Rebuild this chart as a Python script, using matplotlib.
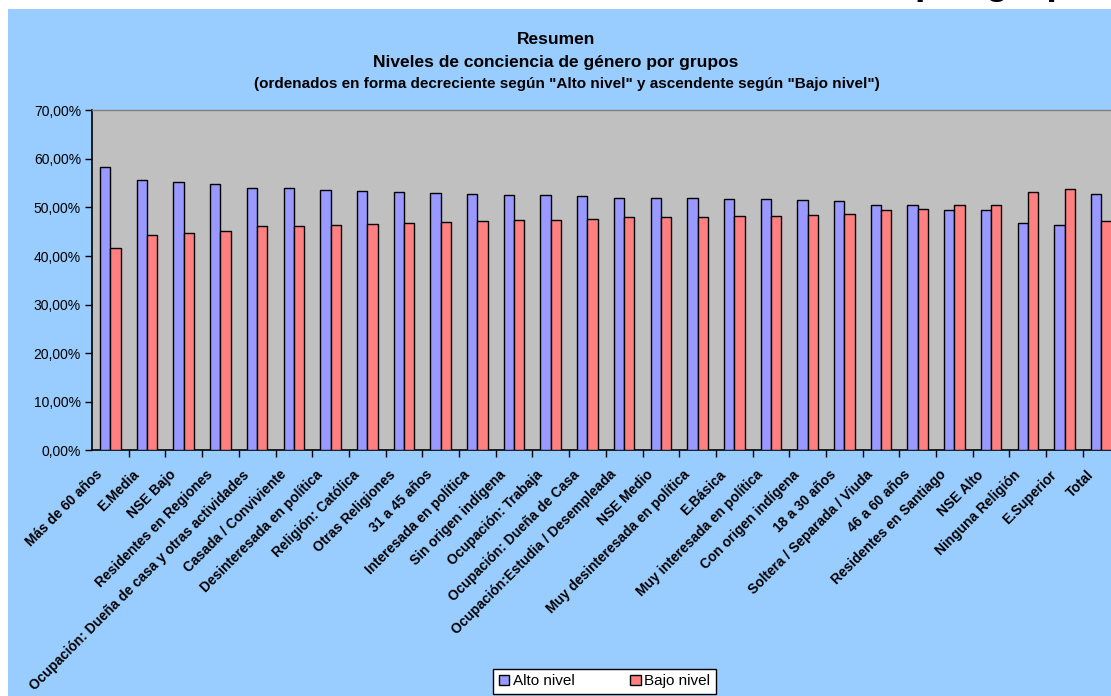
import matplotlib
matplotlib.use("Agg")
import matplotlib.pyplot as plt
import matplotlib.transforms as mtransforms
import numpy as np
from matplotlib.patches import Rectangle, Patch
from matplotlib.ticker import FuncFormatter, FixedLocator

plt.rcParams['font.family'] = ['Liberation Sans', 'DejaVu Sans']

categories = [
    "Más de 60 años", "E.Media", "NSE Bajo", "Residentes en Regiones",
    "Ocupación: Dueña de casa y otras actividades", "Casada / Conviviente",
    "Desinteresada en política", "Religión: Católica", "Otras Religiones",
    "31 a 45 años", "Interesada en política", "Sin origen indígena",
    "Ocupación: Trabaja", "Ocupación: Dueña de Casa",
    "Ocupación:Estudia / Desempleada", "NSE Medio",
    "Muy desinteresada en política", "E.Básica", "Muy interesada en política",
    "Con origen indígena", "18 a 30 años", "Soltera / Separada / Viuda",
    "46 a 60 años", "Residentes en Santiago", "NSE Alto", "Ninguna Religión",
    "E.Superior", "Total",
]
alto_nivel = [58.4, 55.7, 55.2, 54.9, 53.9, 53.9, 53.6, 53.4, 53.1, 52.9,
              52.7, 52.6, 52.5, 52.4, 52.0, 51.9, 51.9, 51.8, 51.7, 51.6,
              51.4, 50.5, 50.4, 49.5, 49.4, 46.8, 46.3, 52.7]
bajo_nivel = [41.6, 44.3, 44.8, 45.1, 46.1, 46.1, 46.4, 46.6, 46.9, 47.1,
              47.3, 47.4, 47.5, 47.6, 48.0, 48.1, 48.1, 48.2, 48.3, 48.4,
              48.6, 49.5, 49.6, 50.5, 50.6, 53.2, 53.7, 47.3]
series_names = ["Alto nivel", "Bajo nivel"]
yticks = [0, 10, 20, 30, 40, 50, 60, 70]

W, H = 1111, 696
fig = plt.figure(figsize=(W / 100, H / 100), dpi=100)
fig.patch.set_facecolor('white')

# chart area background
bg = Rectangle((8 / W, -0.05), 1.1, 1.05 - 9 / H, transform=fig.transFigure,
               facecolor='#99CCFF', edgecolor='none', zorder=-10)
fig.add_artist(bg)

# clipped big title above the chart
fig.text(915 / W, 1 + 5.5 / H, "por grupos", fontsize=27, fontweight='bold',
         va='baseline', ha='left', color='black')

left, right = 92, 1119.6
top, bottom = 110.3, 450.3
ax = fig.add_axes([left / W, 1 - bottom / H, (right - left) / W, (bottom - top) / H])
ax.set_facecolor('#C0C0C0')

x = np.arange(len(categories))
w = 0.28
ax.bar(x - w / 2, np.array(alto_nivel) / 100, w, color='#9999FF',
       edgecolor='black', linewidth=1.0, label=series_names[0], zorder=3)
ax.bar(x + w / 2, np.array(bajo_nivel) / 100, w, color='#FF8080',
       edgecolor='black', linewidth=1.0, label=series_names[1], zorder=3)

ax.set_xlim(-0.5, len(categories) - 0.5)
ax.set_ylim(0, 0.70)
ax.set_yticks([v / 100 for v in yticks])
ax.yaxis.set_major_formatter(FuncFormatter(lambda v, p: f"{v*100:.2f}%".replace('.', ',')))
ax.tick_params(axis='y', direction='out', length=5, width=1, labelsize=10, pad=3)

ax.set_xticks(x)
ax.set_xticklabels(categories, rotation=45, ha='right', va='top', rotation_mode='anchor',
                   fontsize=9.9, fontweight='bold')
ax.tick_params(axis='x', which='major', length=0, pad=11)
offset = mtransforms.ScaledTranslation(-15 / 100, -2 / 100, fig.dpi_scale_trans)
for lab in ax.get_xticklabels():
    lab.set_transform(lab.get_transform() + offset)
ax.xaxis.set_minor_locator(FixedLocator(np.arange(len(categories)) + 0.5))
ax.tick_params(axis='x', which='minor', direction='out', length=5, width=1)

for s in ['left', 'bottom']:
    ax.spines[s].set_color('black')
    ax.spines[s].set_linewidth(1.2)
for s in ['top', 'right']:
    ax.spines[s].set_color('#808080')
    ax.spines[s].set_linewidth(1.0)

# titles
fig.text(556 / W, 1 - 40 / H, "Resumen", fontsize=12.5, fontweight='bold', ha='center', va='center')
fig.text(556 / W, 1 - 62 / H, "Niveles de conciencia de género por grupos", fontsize=12.5,
         fontweight='bold', ha='center', va='center')
fig.text(567 / W, 1 - 84 / H,
         '(ordenados en forma decreciente según "Alto nivel" y ascendente según "Bajo nivel")',
         fontsize=11, fontweight='bold', ha='center', va='center')

handles = [Patch(facecolor='#9999FF', edgecolor='black', linewidth=1.0),
           Patch(facecolor='#FF8080', edgecolor='black', linewidth=1.0)]
leg = fig.legend(handles, series_names, loc='upper center', bbox_to_anchor=(604.5 / W, 1 - 669 / H),
                 ncol=2, fontsize=11, frameon=True, fancybox=False, shadow=False, framealpha=1,
                 handlelength=0.7, handleheight=0.7, handletextpad=0.25, columnspacing=3.6,
                 borderpad=0.35, borderaxespad=0)
leg.get_frame().set_edgecolor('black')
leg.get_frame().set_linewidth(1.0)
leg.get_frame().set_facecolor('white')

fig.savefig('out.png', dpi=100)
